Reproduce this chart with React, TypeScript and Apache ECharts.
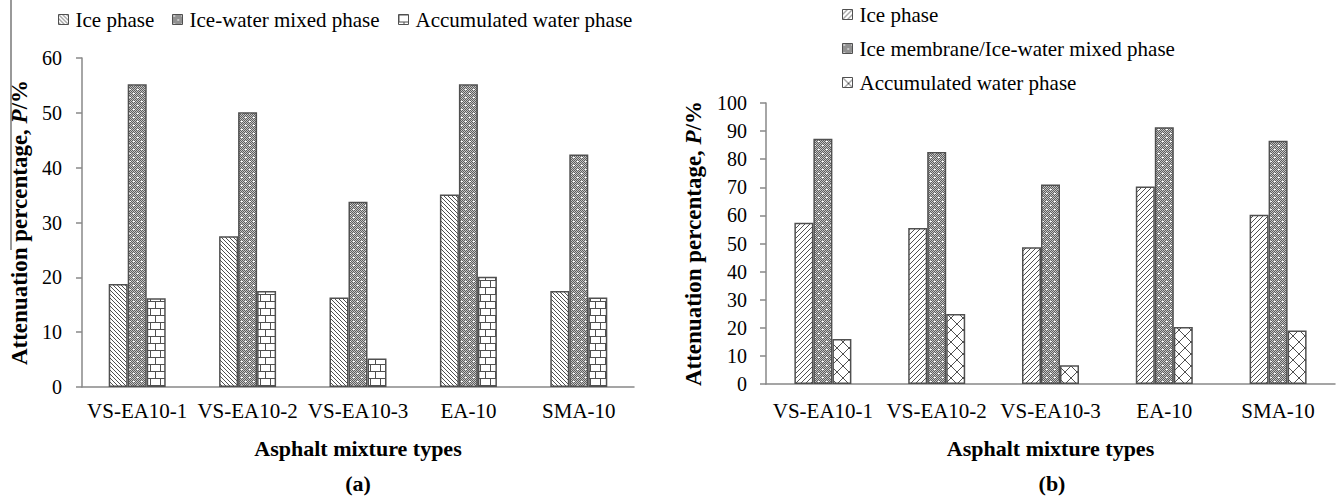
import React, { useEffect, useRef } from 'react';
import * as echarts from 'echarts';

const categories = ['VS-EA10-1', 'VS-EA10-2', 'VS-EA10-3', 'EA-10', 'SMA-10'];

// Panel (a)
const namesA = ['Ice phase', 'Ice-water mixed phase', 'Accumulated water phase'];
const iceA = [18.8, 27.5, 16.3, 35.1, 17.5];
const mixedA = [55.2, 50.1, 33.8, 55.2, 42.4];
const waterA = [16.2, 17.5, 5.2, 20.1, 16.3];
const yMaxA = 60;
const yStepA = 10;

// Panel (b)
const namesB = ['Ice phase', 'Ice membrane/Ice-water mixed phase', 'Accumulated water phase'];
const iceB = [57.4, 55.5, 48.7, 70.3, 60.2];
const mixedB = [87.3, 82.6, 71.0, 91.4, 86.6];
const waterB = [16.0, 24.9, 6.7, 20.3, 19.0];
const yMaxB = 100;
const yStepB = 10;

const xTitle = 'Asphalt mixture types';
const yTitle = 'Attenuation percentage, {i|P}/%';

const FONT = 'Liberation Serif, Times New Roman, serif';
const INK = '#505050';

function makeTile(w: number, h: number, draw: (px: (x: number, y: number, c?: string) => void) => void) {
  const c = document.createElement('canvas');
  c.width = w;
  c.height = h;
  const ctx = c.getContext('2d')!;
  ctx.fillStyle = '#ffffff';
  ctx.fillRect(0, 0, w, h);
  const px = (x: number, y: number, col: string = INK) => {
    ctx.fillStyle = col;
    ctx.fillRect(((x % w) + w) % w, ((y % h) + h) % h, 1, 1);
  };
  draw(px);
  return { image: c, repeat: 'repeat', imageWidth: w, imageHeight: h } as any;
}

function patterns() {
  const backDiag = makeTile(4, 4, (px) => {
    for (let i = 0; i < 4; i++) px(i, i);
  });
  const fwdDiag = makeTile(5, 5, (px) => {
    for (let i = 0; i < 5; i++) px(4 - i, i);
  });
  const dotted = makeTile(8, 8, (px) => {
    for (let y = 0; y < 8; y++)
      for (let x = 0; x < 8; x++) px(x, y, (x + y) % 2 === 0 ? '#5e5e5e' : '#c4c4c4');
    px(1, 1, '#ffffff');
    px(2, 1, '#ffffff');
    px(5, 5, '#ffffff');
    px(6, 5, '#ffffff');
  });
  const brick = makeTile(10, 14, (px) => {
    for (let x = 0; x < 10; x++) {
      px(x, 0);
      px(x, 7);
    }
    for (let y = 0; y < 7; y++) px(0, y);
    for (let y = 7; y < 14; y++) px(5, y);
  });
  const cross = makeTile(12, 12, (px) => {
    for (let i = 0; i < 12; i++) {
      px(i, i);
      px(11 - i, i);
    }
  });
  return { backDiag, fwdDiag, dotted, brick, cross };
}

type PanelCfg = {
  left: number;
  width: number;
  build: () => any;
};

function Panel({ left, width, build }: PanelCfg) {
  const ref = useRef<HTMLDivElement>(null);
  useEffect(() => {
    if (!ref.current) return;
    const chart = echarts.init(ref.current, undefined, { renderer: 'svg' });
    chart.setOption(build());
    return () => chart.dispose();
  }, []);
  return (
    <div
      ref={ref}
      style={{ position: 'absolute', left, top: 0, width, height: 502 }}
    />
  );
}

function barSeries(name: string, data: number[], color: any) {
  return {
    type: 'bar',
    name,
    data,
    barWidth: 19,
    barGap: '0%',
    itemStyle: { color, borderColor: INK, borderWidth: 1.5 },
  };
}

function axes(grid: any, yMax: number, yStep: number, labelMargin: number, nameGap: number, xLabelMargin: number, xNameGap: number) {
  return {
    grid,
    xAxis: {
      type: 'category',
      data: categories,
      axisLine: { show: true, lineStyle: { color: '#888888', width: 1.5 } },
      axisTick: { show: false },
      axisLabel: { interval: 0, fontFamily: FONT, fontSize: 21, color: '#000', margin: xLabelMargin },
      name: xTitle,
      nameLocation: 'middle',
      nameGap: xNameGap,
      nameTextStyle: { fontFamily: FONT, fontSize: 22, fontWeight: 'bold', color: '#000' },
    },
    yAxis: {
      type: 'value',
      min: 0,
      max: yMax,
      interval: yStep,
      splitLine: { show: false },
      axisLine: { show: true, lineStyle: { color: '#888888', width: 1.5 } },
      axisTick: { show: true, inside: false, length: 6, lineStyle: { color: '#888888', width: 1.5 } },
      axisLabel: { fontFamily: FONT, fontSize: 20, color: '#000', margin: labelMargin },
      name: yTitle,
      nameLocation: 'middle',
      nameRotate: 90,
      nameGap,
      nameTextStyle: {
        fontFamily: FONT,
        fontSize: 23,
        fontWeight: 'bold',
        color: '#000',
        rich: { i: { fontFamily: FONT, fontSize: 23, fontWeight: 'bold', fontStyle: 'italic', color: '#000' } },
      },
    },
  };
}

function legendItem(name: string, left: number, top: number) {
  return {
    data: [name],
    left,
    top,
    icon: 'rect',
    itemWidth: 10,
    itemHeight: 10,
    itemGap: 0,
    padding: 0,
    textStyle: { fontFamily: FONT, fontSize: 21, color: '#000', padding: [0, 0, 0, 2] },
    itemStyle: { borderColor: INK, borderWidth: 1 },
  };
}

export default function App() {
  const buildA = () => {
    const p = patterns();
    return {
      animation: false,
      backgroundColor: '#ffffff',
      ...axes({ left: 82, top: 58, width: 552, height: 329 }, yMaxA, yStepA, 20, 48, 13, 50),
      legend: [
        legendItem(namesA[0], 58, 9),
        legendItem(namesA[1], 172, 9),
        legendItem(namesA[2], 398, 9),
      ],
      series: [
        barSeries(namesA[0], iceA, p.backDiag),
        barSeries(namesA[1], mixedA, p.dotted),
        barSeries(namesA[2], waterA, p.brick),
      ],
      graphic: [
        {
          type: 'line',
          shape: { x1: 11, y1: 0, x2: 11, y2: 250 },
          style: { stroke: '#777777', lineWidth: 1.5 },
        },
        {
          type: 'text',
          x: 358,
          y: 483,
          style: {
            text: '(a)',
            fontFamily: FONT,
            fontSize: 22,
            fontWeight: 'bold',
            fill: '#000',
            textAlign: 'center',
            textVerticalAlign: 'middle',
          },
        },
      ],
    };
  };

  const buildB = () => {
    const p = patterns();
    return {
      animation: false,
      backgroundColor: '#ffffff',
      ...axes({ left: 97, top: 103, width: 569, height: 281 }, yMaxB, yStepB, 19, 61, 16, 53),
      legend: [
        legendItem(namesB[0], 173, 4),
        legendItem(namesB[1], 173, 38),
        legendItem(namesB[2], 173, 72),
      ],
      series: [
        barSeries(namesB[0], iceB, p.fwdDiag),
        barSeries(namesB[1], mixedB, p.dotted),
        barSeries(namesB[2], waterB, p.cross),
      ],
      graphic: [
        {
          type: 'text',
          x: 383,
          y: 483,
          style: {
            text: '(b)',
            fontFamily: FONT,
            fontSize: 22,
            fontWeight: 'bold',
            fill: '#000',
            textAlign: 'center',
            textVerticalAlign: 'middle',
          },
        },
      ],
    };
  };

  return (
    <div style={{ position: 'absolute', left: 0, top: 0, width: 1338, height: 502, background: '#fff', overflow: 'hidden' }}>
      <Panel left={0} width={669} build={buildA} />
      <Panel left={669} width={669} build={buildB} />
    </div>
  );
}
